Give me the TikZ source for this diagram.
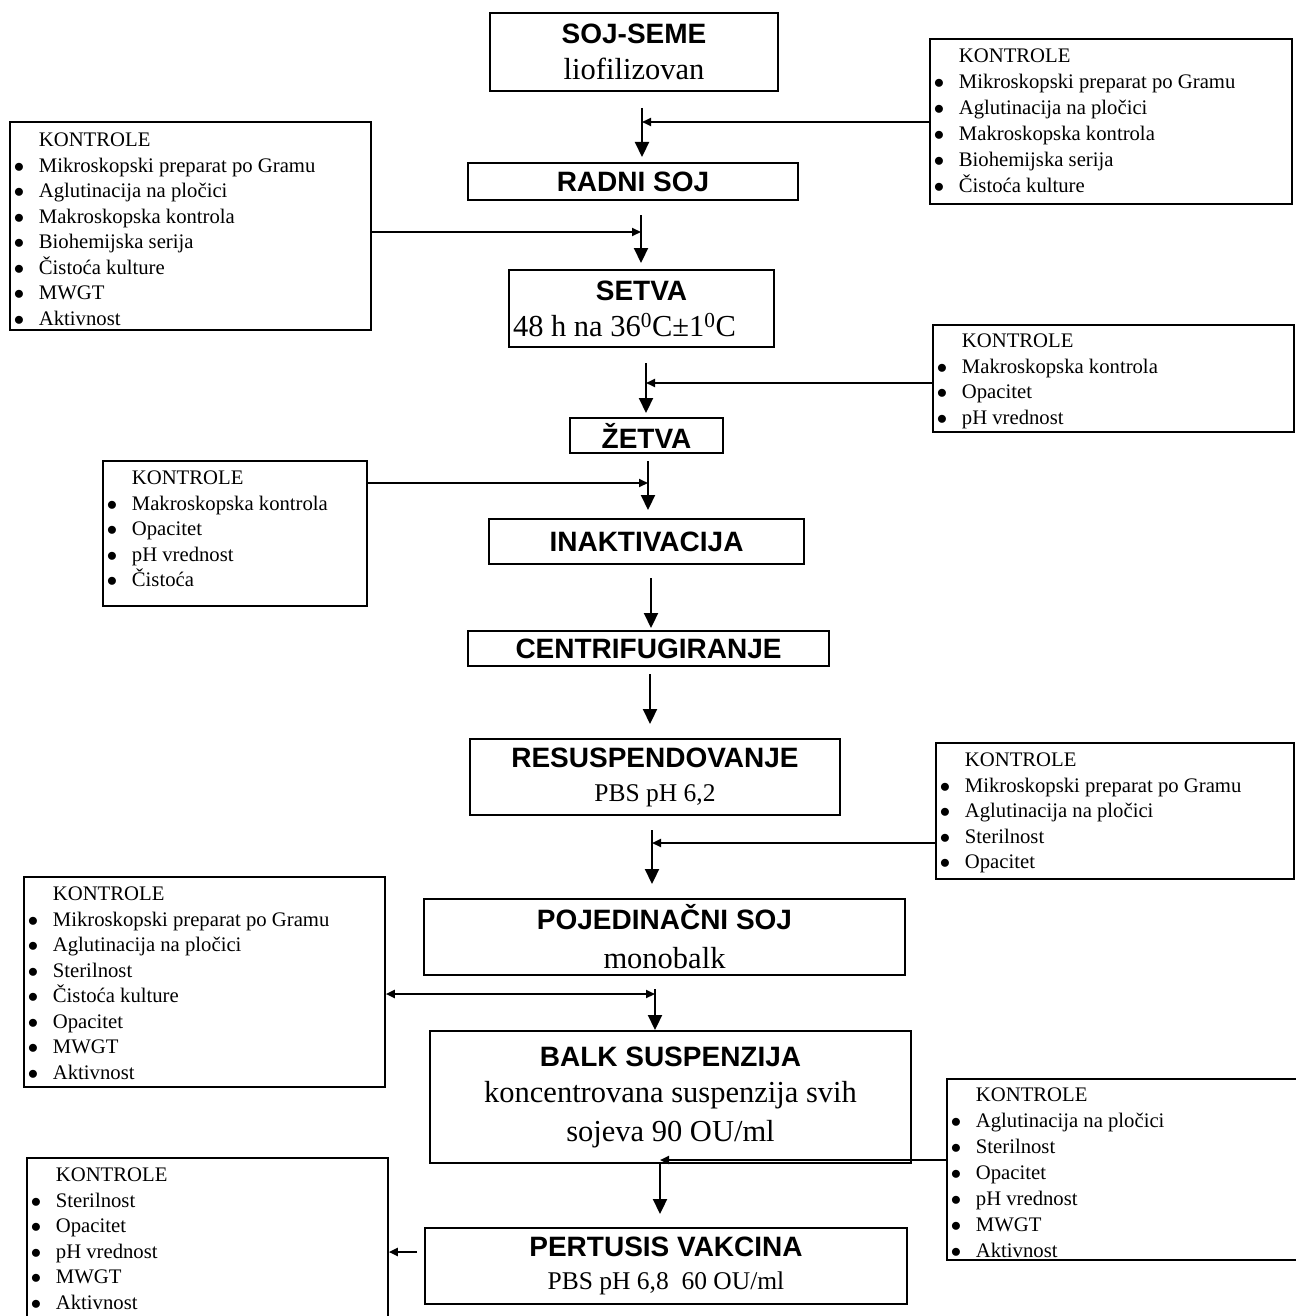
\documentclass[tikz,border=0pt]{standalone}
\usepackage{fontspec}
\setmainfont{Liberation Serif}
\setsansfont{Liberation Sans}
\usetikzlibrary{arrows.meta}
\newcommand\ttlfont{\sffamily\bfseries\fontsize{28}{34}\selectfont}
\newcommand\subfont{\rmfamily\fontsize{30.5}{36}\selectfont}
\newcommand\pbsfont{\rmfamily\fontsize{25.5}{30}\selectfont}
\newcommand\kfont{\rmfamily\fontsize{20.7}{25.5}\selectfont}
\newcommand\kfontw{\rmfamily\fontsize{20.7}{26}\selectfont}
\newcommand\khead{\hspace*{29pt}KONTROLE}
\newcommand\kitem[1]{\makebox[29pt][l]{\hspace*{4pt}$\bullet$}#1}
\tikzset{
  stage/.style={draw, line width=1.8pt, inner sep=0pt, align=center,
    font=\subfont},
  kontrola/.style={draw, line width=1.8pt, inner sep=0pt,
    anchor=north west, font=\kfont},
  flowarr/.style={line width=2.2pt, -{Triangle[length=15pt,width=14pt]}},
  sidearr/.style={line width=2pt, -{Triangle[length=9pt,width=8pt]}},
  twoway/.style={line width=2pt,
    {Triangle[length=9pt,width=8pt]}-{Triangle[length=9pt,width=8pt]}},
}

\begin{document}
\begin{tikzpicture}[x=1pt,y=-1pt]
\path[use as bounding box, fill=white] (0,0) rectangle (1295,1316);

% process stages
\node[stage, minimum width=288pt, minimum height=78pt] (seme) at (634,52)
  {{\ttlfont SOJ-SEME}\\ liofilizovan};
\node[stage, minimum width=330pt, minimum height=37pt] (radni) at (633,181.5)
  {{\ttlfont RADNI SOJ}};
\node[stage, minimum width=265pt, minimum height=77pt] (setva) at (641.5,308.5)
  {{\ttlfont SETVA}\\
   \makebox[257pt][l]{48 h na 36\textsuperscript{0}C±1\textsuperscript{0}C}};
\node[stage, minimum width=153pt, minimum height=35pt] (zetva) at (646.5,435.5)
  {{\ttlfont ŽETVA}};
\node[stage, minimum width=315pt, minimum height=45pt] (inakt) at (646.5,541.5)
  {{\ttlfont INAKTIVACIJA}};
\node[stage, minimum width=361pt, minimum height=35pt] (centri) at (648.5,648.5)
  {{\ttlfont CENTRIFUGIRANJE}};
\node[stage, font=\pbsfont, minimum width=370pt, minimum height=76pt] (resusp)
  at (655,777) {{\ttlfont RESUSPENDOVANJE}\\[4pt] PBS pH 6,2};
\node[stage, minimum width=481pt, minimum height=76pt] (poj) at (664.5,937)
  {{\ttlfont POJEDINAČNI SOJ}\\[3pt] monobalk};
\node[stage, minimum width=481pt, minimum height=132pt] (balk) at (670.5,1097)
  {{\ttlfont BALK SUSPENZIJA}\\ koncentrovana suspenzija svih\\[3pt]
   sojeva 90 OU/ml};
\node[stage, font=\pbsfont, minimum width=482pt, minimum height=76pt] (pert)
  at (666,1266) {{\ttlfont PERTUSIS VAKCINA}\\[3pt] PBS pH 6,8\ \ 60 OU/ml};

% control boxes
\node[kontrola, font=\kfontw, text height=24pt, text depth=141pt] (kR1)
  at (929,38) {\parbox[t]{362pt}{\khead\\
  \kitem{Mikroskopski preparat po Gramu}\\ \kitem{Aglutinacija na pločici}\\
  \kitem{Makroskopska kontrola}\\ \kitem{Biohemijska serija}\\
  \kitem{Čistoća kulture}}};
\node[kontrola, text height=25pt, text depth=183pt] (kL1)
  at (9,121) {\parbox[t]{361pt}{\khead\\
  \kitem{Mikroskopski preparat po Gramu}\\ \kitem{Aglutinacija na pločici}\\
  \kitem{Makroskopska kontrola}\\ \kitem{Biohemijska serija}\\
  \kitem{Čistoća kulture}\\ \kitem{MWGT}\\ \kitem{Aktivnost}}};
\node[kontrola, text height=23pt, text depth=84pt] (kR2)
  at (932,324) {\parbox[t]{361pt}{\khead\\
  \kitem{Makroskopska kontrola}\\ \kitem{Opacitet}\\ \kitem{pH vrednost}}};
\node[kontrola, text height=24pt, text depth=121pt] (kL2)
  at (102,460) {\parbox[t]{264pt}{\khead\\
  \kitem{Makroskopska kontrola}\\ \kitem{Opacitet}\\ \kitem{pH vrednost}\\
  \kitem{Čistoća}}};
\node[kontrola, text height=24pt, text depth=112pt] (kR3)
  at (935,742) {\parbox[t]{358pt}{\khead\\
  \kitem{Mikroskopski preparat po Gramu}\\ \kitem{Aglutinacija na pločici}\\
  \kitem{Sterilnost}\\ \kitem{Opacitet}}};
\node[kontrola, text height=24pt, text depth=186pt] (kL3)
  at (23,876) {\parbox[t]{361pt}{\khead\\
  \kitem{Mikroskopski preparat po Gramu}\\ \kitem{Aglutinacija na pločici}\\
  \kitem{Sterilnost}\\ \kitem{Čistoća kulture}\\ \kitem{Opacitet}\\
  \kitem{MWGT}\\ \kitem{Aktivnost}}};
\node[kontrola, font=\kfontw, text height=23pt, text depth=158pt] (kR4)
  at (946,1078) {\parbox[t]{356pt}{\khead\\
  \kitem{Aglutinacija na pločici}\\ \kitem{Sterilnost}\\ \kitem{Opacitet}\\
  \kitem{pH vrednost}\\ \kitem{MWGT}\\ \kitem{Aktivnost}}};
\node[kontrola, text height=24pt, text depth=141pt] (kL4)
  at (26,1157) {\parbox[t]{361pt}{\khead\\
  \kitem{Sterilnost}\\ \kitem{Opacitet}\\ \kitem{pH vrednost}\\
  \kitem{MWGT}\\ \kitem{Aktivnost}}};

% flow arrows
\coordinate (f1) at (642,108);  \coordinate (t1) at (642,157);
\coordinate (f2) at (641,215);  \coordinate (t2) at (641,263);
\coordinate (f3) at (646,363);  \coordinate (t3) at (646,413);
\coordinate (f4) at (648,461);  \coordinate (t4) at (648,510);
\coordinate (f5) at (651,578);  \coordinate (t5) at (651,628);
\coordinate (f6) at (650,674);  \coordinate (t6) at (650,724);
\coordinate (f7) at (652,830);  \coordinate (t7) at (652,884);
\coordinate (f8) at (655,989);  \coordinate (t8) at (655,1030);
\coordinate (t9) at (660,1214);
\draw[flowarr] (f1) -- (t1);
\draw[flowarr] (f2) -- (t2);
\draw[flowarr] (f3) -- (t3);
\draw[flowarr] (f4) -- (t4);
\draw[flowarr] (f5) -- (t5);
\draw[flowarr] (f6) -- (t6);
\draw[flowarr] (f7) -- (t7);
\draw[flowarr] (f8) -- (t8);
\draw[flowarr] (balk.south -| t9) -- (t9);

% control inputs
\coordinate (j1) at (642,122);
\coordinate (j2) at (641,232);
\coordinate (j3) at (646,383);
\coordinate (j4) at (648,483);
\coordinate (j7) at (652,843);
\coordinate (j8) at (655,994);
\coordinate (j9) at (660,1160);
\coordinate (p10) at (417,1252);
\draw[sidearr] (kR1.west |- j1) -- (j1);
\draw[sidearr] (kL1.east |- j2) -- (j2);
\draw[sidearr] (kR2.west |- j3) -- (j3);
\draw[sidearr] (kL2.east |- j4) -- (j4);
\draw[sidearr] (kR3.west |- j7) -- (j7);
\draw[twoway] (kL3.east |- j8) -- (j8);
\draw[sidearr] (kR4.west |- j9) -- (j9);
\draw[sidearr] (p10) -- (kL4.east |- p10);
\end{tikzpicture}
\end{document}
